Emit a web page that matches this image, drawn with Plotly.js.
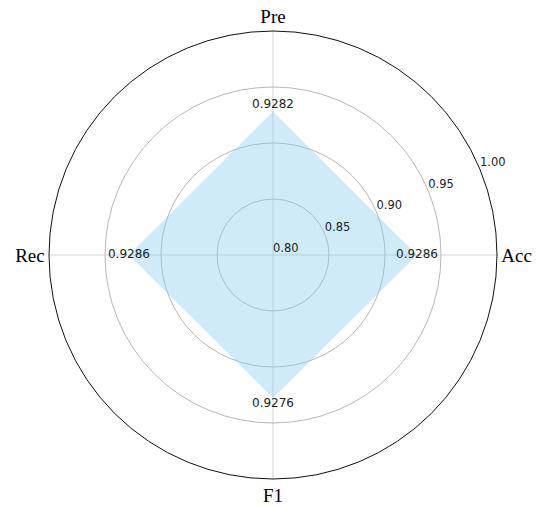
<!DOCTYPE html>
<html>
<head>
<meta charset="utf-8">
<script src="https://cdn.plot.ly/plotly-3.0.1.min.js"></script>
<style>html,body{margin:0;padding:0;background:#fff;}#chart{width:537px;height:506px;}</style>
</head>
<body>
<div id="chart"></div>
<script>
const categories = ['Acc', 'Pre', 'Rec', 'F1'];
const values = [0.9286, 0.9282, 0.9286, 0.9276];
const valueLabels = ['0.9286', '0.9282', '0.9286', '0.9276'];
const radialTicks = [0.80, 0.85, 0.90, 0.95, 1.00];
const radialTickText = ['0.80', '0.85', '0.90', '0.95', '1.00'];
const radialLabelAngle = 22.5;

const angles = categories.map((c, i) => i * 360 / categories.length);
const closedTheta = angles.concat([angles[0]]);
const closedR = values.concat([values[0]]);

const traces = [
  {
    type: 'scatterpolar',
    r: closedR,
    theta: closedTheta,
    mode: 'lines',
    fill: 'toself',
    fillcolor: 'rgba(135,206,235,0.4)',
    line: {width: 0, color: 'rgba(135,206,235,0)'},
    hoverinfo: 'skip',
    showlegend: false
  },
  {
    type: 'scatterpolar',
    r: values,
    theta: angles,
    mode: 'text',
    text: valueLabels,
    textposition: ['middle center', 'top center', 'middle center', 'bottom center'],
    textfont: {family: 'DejaVu Sans', size: 12, color: '#222'},
    cliponaxis: false,
    showlegend: false,
    hoverinfo: 'skip'
  },
  {
    type: 'scatterpolar',
    r: radialTicks,
    theta: radialTicks.map(() => radialLabelAngle),
    mode: 'text',
    text: radialTickText,
    textposition: 'top right',
    textfont: {family: 'DejaVu Sans', size: 11.5, color: '#222'},
    cliponaxis: false,
    showlegend: false,
    hoverinfo: 'skip'
  }
];

const layout = {
  width: 537,
  height: 506,
  margin: {l: 49, r: 40, t: 31, b: 27},
  paper_bgcolor: '#fff',
  showlegend: false,
  polar: {
    bgcolor: '#fff',
    domain: {x: [0, 1], y: [0, 1]},
    radialaxis: {
      range: [0.8, 1.0],
      tickvals: radialTicks,
      showticklabels: false,
      angle: radialLabelAngle,
      showline: false,
      ticks: '',
      gridcolor: '#b8b8b8',
      gridwidth: 1
    },
    angularaxis: {
      type: 'linear',
      thetaunit: 'degrees',
      tickvals: angles,
      ticktext: categories,
      rotation: 0,
      direction: 'counterclockwise',
      showline: true,
      linecolor: '#111',
      linewidth: 1,
      gridcolor: '#d3d3d3',
      gridwidth: 1,
      ticks: '',
      tickfont: {family: 'Liberation Serif', size: 19, color: '#000'}
    }
  }
};

Plotly.newPlot('chart', traces, layout, {displayModeBar: false, staticPlot: true});
</script>
</body>
</html>
